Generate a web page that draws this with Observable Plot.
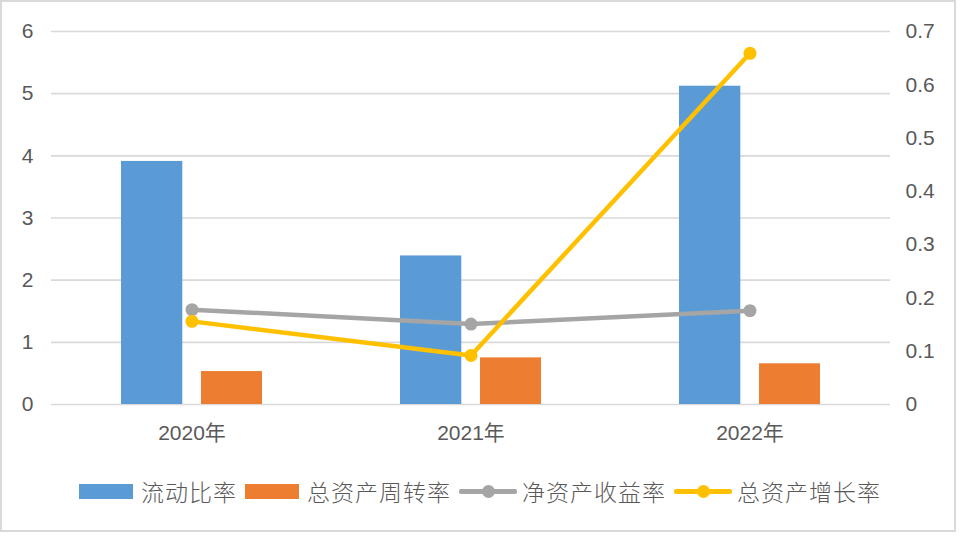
<!DOCTYPE html>
<html>
<head>
<meta charset="utf-8">
<script src="https://cdn.jsdelivr.net/npm/d3@7"></script>
<script src="https://cdn.jsdelivr.net/npm/@observablehq/plot@0.6"></script>
<style>
  html, body { margin: 0; padding: 0; background: #fff; }
  #frame {
    position: absolute; left: 0; top: 0; width: 956px; height: 532px;
    box-sizing: border-box; border: 2px solid #d9d9d9; background: #fff;
  }
  #chart { position: absolute; left: 0; top: 0; }
  #legend {
    position: absolute; left: 0; top: 478px; width: 960px; height: 26px;
    display: flex; justify-content: center; align-items: center;
    font-family: "Noto Sans CJK SC", sans-serif; font-weight: 300;
    font-size: 23px; letter-spacing: 1px; color: #595959;
  }
  .item { display: flex; align-items: center; margin: 0 4px; }
  .sw { width: 54px; height: 15px; margin-right: 8px; }
  .ln { position: relative; width: 58px; height: 15px; margin-right: 5px; }
  .ln .bar { position: absolute; left: 0; right: 0; top: 5px; height: 5px; border-radius: 2px; }
  .ln .dot { position: absolute; left: 23px; top: 0; width: 13px; height: 13px; border-radius: 50%; margin-top: 1px; }
</style>
</head>
<body>
<div id="frame"></div>
<div id="chart"></div>
<div id="legend"></div>
<script>
// ---- data ----
const years = ["2020年", "2021年", "2022年"];
const currentRatio = [3.91, 2.39, 5.12];      // 流动比率 (left axis)
const assetTurnover = [0.53, 0.75, 0.655];    // 总资产周转率 (left axis)
const roe = [0.178, 0.151, 0.176];            // 净资产收益率 (right axis)
const assetGrowth = [0.156, 0.092, 0.659];    // 总资产增长率 (right axis)
const leftTicks = [0, 1, 2, 3, 4, 5, 6];
const rightTicks = [0, 0.1, 0.2, 0.3, 0.4, 0.5, 0.6, 0.7];
const seriesNames = ["流动比率", "总资产周转率", "净资产收益率", "总资产增长率"];
const seriesColors = ["#5B9BD5", "#ED7D31", "#A5A5A5", "#FFC000"];

const k = 6 / 0.7; // right-axis value -> left-axis scale
const rows = (vals) => years.map((y, i) => ({year: y, value: vals[i]}));
const fmtRight = v => { const r = Math.round(v / k * 10) / 10; return r === 0 ? "0" : String(r); };

const chart = Plot.plot({
  width: 960,
  height: 465,
  marginLeft: 51,
  marginRight: 70,
  marginTop: 31,
  marginBottom: 61,
  x: {domain: years, padding: 0, axis: null, label: null},
  y: {domain: [0, 6], axis: null, label: null},
  style: {
    fontFamily: "'Liberation Sans', Arial, 'Noto Sans CJK SC', sans-serif",
    fontSize: "21px",
    color: "#595959",
    background: "transparent",
    overflow: "visible"
  },
  marks: [
    Plot.gridY(leftTicks, {stroke: "#d9d9d9", strokeOpacity: 1, strokeWidth: 1.6}),
    Plot.axisY(leftTicks, {anchor: "left", tickSize: 0, tickPadding: 18, fontSize: 21, label: null, tickFormat: d => String(d)}),
    Plot.axisY(rightTicks.map(v => v * k), {anchor: "right", tickSize: 0, tickPadding: 15, fontSize: 21, label: null, tickFormat: fmtRight}),
    Plot.axisX(years, {anchor: "bottom", tickSize: 0, tickPadding: 21, fontSize: 21, label: null}),
    Plot.barY(rows(currentRatio), {x: "year", y: "value", fill: seriesColors[0], insetLeft: 69, insetRight: 148.7}),
    Plot.barY(rows(assetTurnover), {x: "year", y: "value", fill: seriesColors[1], insetLeft: 149, insetRight: 69}),
    Plot.line(rows(roe), {x: "year", y: d => d.value * k, stroke: seriesColors[2], strokeWidth: 4.5}),
    Plot.dot(rows(roe), {x: "year", y: d => d.value * k, fill: seriesColors[2], r: 6.5}),
    Plot.line(rows(assetGrowth), {x: "year", y: d => d.value * k, stroke: seriesColors[3], strokeWidth: 4.5}),
    Plot.dot(rows(assetGrowth), {x: "year", y: d => d.value * k, fill: seriesColors[3], r: 6.5})
  ]
});
document.getElementById("chart").appendChild(chart);

// ---- legend ----
const legend = document.getElementById("legend");
seriesNames.forEach((name, i) => {
  const item = document.createElement("div");
  item.className = "item";
  if (i < 2) {
    const sw = document.createElement("div");
    sw.className = "sw";
    sw.style.background = seriesColors[i];
    item.appendChild(sw);
  } else {
    const ln = document.createElement("div");
    ln.className = "ln";
    const b = document.createElement("div"); b.className = "bar"; b.style.background = seriesColors[i];
    const d = document.createElement("div"); d.className = "dot"; d.style.background = seriesColors[i];
    ln.appendChild(b); ln.appendChild(d);
    item.appendChild(ln);
  }
  const t = document.createElement("span");
  t.textContent = name;
  item.appendChild(t);
  legend.appendChild(item);
});
</script>
</body>
</html>
